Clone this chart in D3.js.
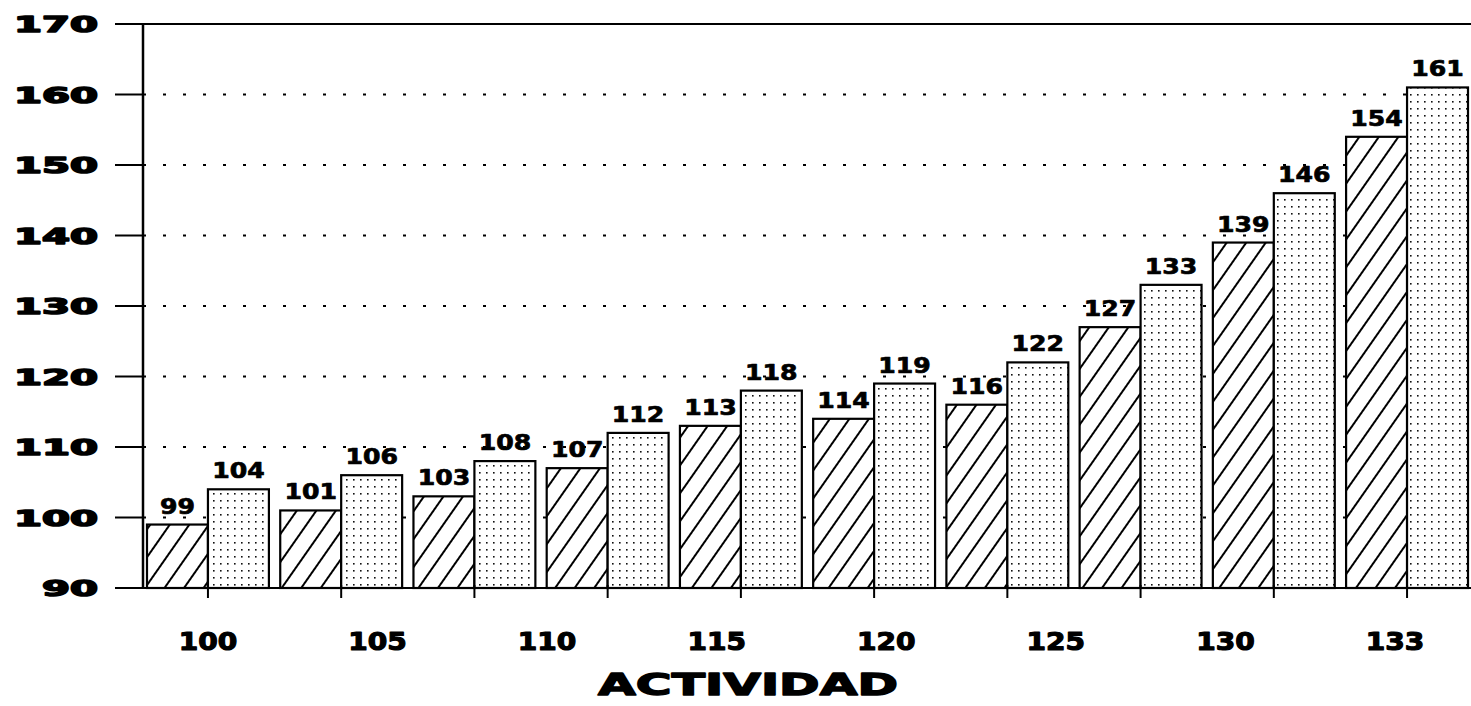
<!DOCTYPE html>
<html>
<head>
<meta charset="utf-8">
<style>
  html, body { margin: 0; padding: 0; background: #fff; }
  svg text { font-family: "DejaVu Sans", sans-serif; font-weight: bold; fill: #000; stroke: #000; stroke-linejoin: round; }
</style>
<script src="https://cdn.jsdelivr.net/npm/d3@7"></script>
</head>
<body>
<script>
// Data
const groups = ['g1', 'g2', 'g3', 'g4', 'g5', 'g6', 'g7', 'g8', 'g9', 'g10']
const hatched = [99, 101, 103, 107, 113, 114, 116, 127, 139, 154]
const dotted = [104, 106, 108, 112, 118, 119, 122, 133, 146, 161]
const xLabels = ['100', '105', '110', '115', '120', '125', '130', '133']
const yTicks = [90, 100, 110, 120, 130, 140, 150, 160, 170]
const xTitle = 'ACTIVIDAD'

const width = 1471, height = 706
const mLeft = 143, mRight = 1472, mTop = 24, mBottom = 588

const svg = d3.select('body').append('svg')
  .attr('width', width)
  .attr('height', height)
  .attr('viewBox', [0, 0, width, height])

// Fill patterns
const defs = svg.append('defs')
const hatch = defs.append('pattern')
  .attr('id', 'hatch')
  .attr('patternUnits', 'userSpaceOnUse')
  .attr('width', 16).attr('height', 16)
  .attr('patternTransform', 'rotate(35)')
hatch.append('rect').attr('width', 16).attr('height', 16).attr('fill', '#fff')
hatch.append('line')
  .attr('x1', 8).attr('y1', 0).attr('x2', 8).attr('y2', 16)
  .attr('stroke', '#000').attr('stroke-width', 2)
const dots = defs.append('pattern')
  .attr('id', 'dots')
  .attr('patternUnits', 'userSpaceOnUse')
  .attr('width', 7).attr('height', 7)
dots.append('rect').attr('width', 7).attr('height', 7).attr('fill', '#fff')
dots.append('rect').attr('x', 3).attr('y', 3).attr('width', 1.6).attr('height', 1.6).attr('fill', '#111')

// Scales
const x = d3.scaleBand()
  .domain(groups)
  .range([mLeft, mRight])
  .paddingInner(0.085)
  .paddingOuter(0.03)
const y = d3.scaleLinear().domain([90, 170]).range([mBottom, mTop])
const bw = x.bandwidth() / 2
const xl = d3.scalePoint()
  .domain(xLabels)
  .range([x(groups[0]) + bw, x(groups[groups.length - 1]) + bw - 12])

// Dotted gridlines
svg.append('g')
  .selectAll('line')
  .data(yTicks.filter(d => d > 90 && d < 170))
  .join('line')
  .attr('x1', mLeft).attr('x2', width)
  .attr('y1', d => y(d)).attr('y2', d => y(d))
  .attr('stroke', '#000')
  .attr('stroke-width', 2)
  .attr('stroke-dasharray', '3 17')

// Bars
const bars = svg.append('g')
bars.selectAll('rect.h')
  .data(hatched)
  .join('rect')
  .attr('class', 'h')
  .attr('x', (d, i) => x(groups[i]))
  .attr('y', d => y(d))
  .attr('width', bw)
  .attr('height', d => mBottom - y(d))
  .attr('fill', 'url(#hatch)')
  .attr('stroke', '#000')
  .attr('stroke-width', 2.2)
bars.selectAll('rect.d')
  .data(dotted)
  .join('rect')
  .attr('class', 'd')
  .attr('x', (d, i) => x(groups[i]) + bw)
  .attr('y', d => y(d))
  .attr('width', bw)
  .attr('height', d => mBottom - y(d))
  .attr('fill', 'url(#dots)')
  .attr('stroke', '#000')
  .attr('stroke-width', 2.2)

// Value labels
const valueLabel = (sel, data, dx) => sel.selectAll('text')
  .data(data)
  .join('text')
  .attr('x', (d, i) => x(groups[i]) + dx)
  .attr('y', d => y(d) - 11)
  .attr('text-anchor', 'middle')
  .attr('font-size', 21)
  .attr('stroke-width', 0.7)
  .attr('textLength', d => String(d).length * 17.5)
  .attr('lengthAdjust', 'spacingAndGlyphs')
  .text(d => d)
valueLabel(svg.append('g'), hatched, bw / 2)
valueLabel(svg.append('g'), dotted, bw * 1.5)

// Y axis
const yAxis = svg.append('g')
yAxis.append('line')
  .attr('x1', mLeft).attr('x2', mLeft)
  .attr('y1', mTop).attr('y2', mBottom)
  .attr('stroke', '#000').attr('stroke-width', 2.5)
yAxis.selectAll('line.tick')
  .data(yTicks)
  .join('line')
  .attr('class', 'tick')
  .attr('x1', 115).attr('x2', d => d === 90 || d === 170 ? width : mLeft)
  .attr('y1', d => y(d)).attr('y2', d => y(d))
  .attr('stroke', '#000').attr('stroke-width', 2)
yAxis.selectAll('text')
  .data(yTicks)
  .join('text')
  .attr('x', 98)
  .attr('y', d => y(d) + 8)
  .attr('text-anchor', 'end')
  .attr('font-size', 22)
  .attr('stroke-width', 1.6)
  .attr('textLength', d => String(d).length * 28)
  .attr('lengthAdjust', 'spacingAndGlyphs')
  .text(d => d)

// X axis ticks and labels
svg.append('g')
  .selectAll('line')
  .data(groups)
  .join('line')
  .attr('x1', d => x(d) + bw).attr('x2', d => x(d) + bw)
  .attr('y1', mBottom - 3).attr('y2', mBottom + 10)
  .attr('stroke', '#000').attr('stroke-width', 2)
svg.append('g')
  .selectAll('text')
  .data(xLabels)
  .join('text')
  .attr('x', d => xl(d))
  .attr('y', 650)
  .attr('text-anchor', 'middle')
  .attr('font-size', 25)
  .attr('stroke-width', 1.2)
  .attr('textLength', d => d.length * 19.5)
  .attr('lengthAdjust', 'spacingAndGlyphs')
  .text(d => d)

svg.append('text')
  .attr('x', 748)
  .attr('y', 695)
  .attr('text-anchor', 'middle')
  .attr('font-size', 30)
  .attr('stroke-width', 1.4)
  .attr('textLength', 300)
  .attr('lengthAdjust', 'spacingAndGlyphs')
  .text(xTitle)
</script>
</body>
</html>
